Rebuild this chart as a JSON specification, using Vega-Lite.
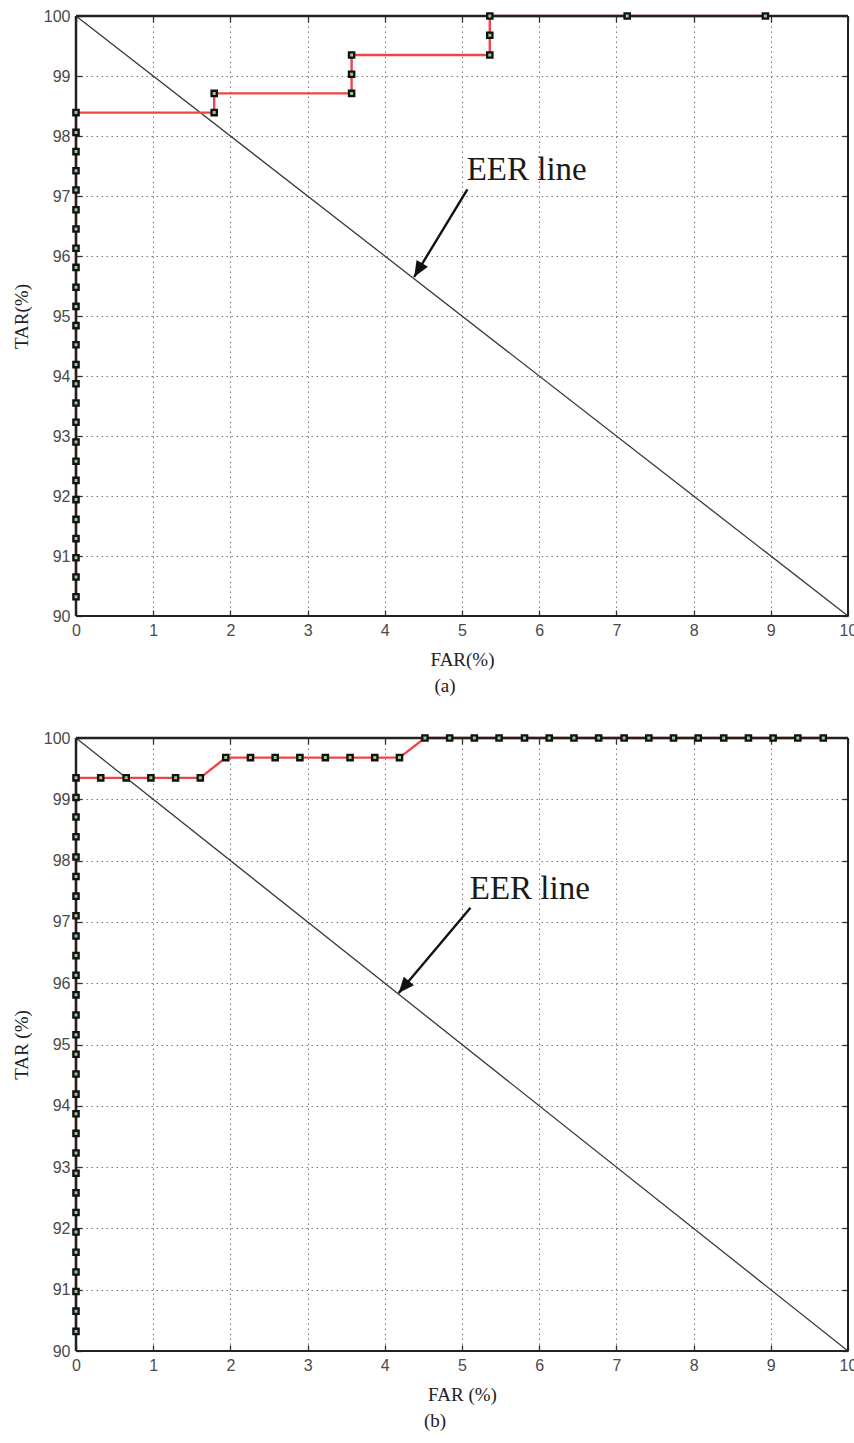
{
  "$schema": "https://vega.github.io/schema/vega-lite/v6.json",
  "background": "white",
  "padding": {"left": 12, "top": 8, "right": 0, "bottom": 0},
  "bounds": "flush",
  "spacing": 122,
  "datasets": {
    "eer": [{"far": 0, "tar": 100}, {"far": 10, "tar": 90}],
    "rocA": [
      {"n": 1, "far": 0, "tar": 90.32}, {"n": 2, "far": 0, "tar": 90.65}, {"n": 3, "far": 0, "tar": 90.97},
      {"n": 4, "far": 0, "tar": 91.29}, {"n": 5, "far": 0, "tar": 91.61}, {"n": 6, "far": 0, "tar": 91.94},
      {"n": 7, "far": 0, "tar": 92.26}, {"n": 8, "far": 0, "tar": 92.58}, {"n": 9, "far": 0, "tar": 92.9},
      {"n": 10, "far": 0, "tar": 93.23}, {"n": 11, "far": 0, "tar": 93.55}, {"n": 12, "far": 0, "tar": 93.87},
      {"n": 13, "far": 0, "tar": 94.19}, {"n": 14, "far": 0, "tar": 94.52}, {"n": 15, "far": 0, "tar": 94.84},
      {"n": 16, "far": 0, "tar": 95.16}, {"n": 17, "far": 0, "tar": 95.48}, {"n": 18, "far": 0, "tar": 95.81},
      {"n": 19, "far": 0, "tar": 96.13}, {"n": 20, "far": 0, "tar": 96.45}, {"n": 21, "far": 0, "tar": 96.77},
      {"n": 22, "far": 0, "tar": 97.1}, {"n": 23, "far": 0, "tar": 97.42}, {"n": 24, "far": 0, "tar": 97.74},
      {"n": 25, "far": 0, "tar": 98.06}, {"n": 26, "far": 0, "tar": 98.39},
      {"n": 27, "far": 1.79, "tar": 98.39}, {"n": 28, "far": 1.79, "tar": 98.71},
      {"n": 29, "far": 3.57, "tar": 98.71}, {"n": 30, "far": 3.57, "tar": 99.03}, {"n": 31, "far": 3.57, "tar": 99.35},
      {"n": 32, "far": 5.36, "tar": 99.35}, {"n": 33, "far": 5.36, "tar": 99.68}, {"n": 34, "far": 5.36, "tar": 100},
      {"n": 35, "far": 7.14, "tar": 100}, {"n": 36, "far": 8.93, "tar": 100}
    ],
    "rocB": [
      {"n": 1, "far": 0, "tar": 90.32}, {"n": 2, "far": 0, "tar": 90.65}, {"n": 3, "far": 0, "tar": 90.97},
      {"n": 4, "far": 0, "tar": 91.29}, {"n": 5, "far": 0, "tar": 91.61}, {"n": 6, "far": 0, "tar": 91.94},
      {"n": 7, "far": 0, "tar": 92.26}, {"n": 8, "far": 0, "tar": 92.58}, {"n": 9, "far": 0, "tar": 92.9},
      {"n": 10, "far": 0, "tar": 93.23}, {"n": 11, "far": 0, "tar": 93.55}, {"n": 12, "far": 0, "tar": 93.87},
      {"n": 13, "far": 0, "tar": 94.19}, {"n": 14, "far": 0, "tar": 94.52}, {"n": 15, "far": 0, "tar": 94.84},
      {"n": 16, "far": 0, "tar": 95.16}, {"n": 17, "far": 0, "tar": 95.48}, {"n": 18, "far": 0, "tar": 95.81},
      {"n": 19, "far": 0, "tar": 96.13}, {"n": 20, "far": 0, "tar": 96.45}, {"n": 21, "far": 0, "tar": 96.77},
      {"n": 22, "far": 0, "tar": 97.1}, {"n": 23, "far": 0, "tar": 97.42}, {"n": 24, "far": 0, "tar": 97.74},
      {"n": 25, "far": 0, "tar": 98.06}, {"n": 26, "far": 0, "tar": 98.39}, {"n": 27, "far": 0, "tar": 98.71},
      {"n": 28, "far": 0, "tar": 99.03}, {"n": 29, "far": 0, "tar": 99.35},
      {"n": 30, "far": 0.32, "tar": 99.35}, {"n": 31, "far": 0.65, "tar": 99.35}, {"n": 32, "far": 0.97, "tar": 99.35},
      {"n": 33, "far": 1.29, "tar": 99.35}, {"n": 34, "far": 1.61, "tar": 99.35},
      {"n": 35, "far": 1.94, "tar": 99.68}, {"n": 36, "far": 2.26, "tar": 99.68}, {"n": 37, "far": 2.58, "tar": 99.68},
      {"n": 38, "far": 2.9, "tar": 99.68}, {"n": 39, "far": 3.23, "tar": 99.68}, {"n": 40, "far": 3.55, "tar": 99.68},
      {"n": 41, "far": 3.87, "tar": 99.68}, {"n": 42, "far": 4.19, "tar": 99.68},
      {"n": 43, "far": 4.52, "tar": 100}, {"n": 44, "far": 4.84, "tar": 100}, {"n": 45, "far": 5.16, "tar": 100},
      {"n": 46, "far": 5.48, "tar": 100}, {"n": 47, "far": 5.81, "tar": 100}, {"n": 48, "far": 6.13, "tar": 100},
      {"n": 49, "far": 6.45, "tar": 100}, {"n": 50, "far": 6.77, "tar": 100}, {"n": 51, "far": 7.1, "tar": 100},
      {"n": 52, "far": 7.42, "tar": 100}, {"n": 53, "far": 7.74, "tar": 100}, {"n": 54, "far": 8.06, "tar": 100},
      {"n": 55, "far": 8.39, "tar": 100}, {"n": 56, "far": 8.71, "tar": 100}, {"n": 57, "far": 9.03, "tar": 100},
      {"n": 58, "far": 9.35, "tar": 100}, {"n": 59, "far": 9.68, "tar": 100}
    ],
    "arrowA": [{"far": 5.07, "tar": 97.11, "far2": 4.38, "tar2": 95.65}],
    "arrowB": [{"far": 5.11, "tar": 97.23, "far2": 4.18, "tar2": 95.84}],
    "labelA": [{"far": 5.06, "tar": 97.27, "label": "EER line"}],
    "labelB": [{"far": 5.1, "tar": 97.38, "label": "EER line"}]
  },
  "vconcat": [
    {
      "width": 772,
      "height": 600,
      "title": {"text": "(a)", "orient": "bottom", "anchor": "middle", "dx": -17, "offset": 8},
      "resolve": {"axis": {"x": "independent", "y": "independent"}},
      "layer": [
        {
          "data": {"name": "eer"},
          "mark": {"type": "line", "color": "#3a3a3a", "strokeWidth": 1.3},
          "encoding": {
            "x": {"field": "far", "type": "quantitative", "scale": {"domain": [0, 10], "nice": false, "zero": false},
                  "axis": {"orient": "bottom", "values": [0, 1, 2, 3, 4, 5, 6, 7, 8, 9, 10], "grid": true, "title": "FAR(%)"}},
            "y": {"field": "tar", "type": "quantitative", "scale": {"domain": [90, 100], "nice": false, "zero": false},
                  "axis": {"orient": "left", "values": [90, 91, 92, 93, 94, 95, 96, 97, 98, 99, 100], "grid": true, "title": "TAR(%)"}}
          }
        },
        {
          "data": {"name": "rocA"},
          "mark": {"type": "line", "color": "#f04545", "strokeWidth": 2.4},
          "encoding": {
            "x": {"field": "far", "type": "quantitative", "scale": {"domain": [0, 10], "nice": false, "zero": false}, "axis": null},
            "y": {"field": "tar", "type": "quantitative", "scale": {"domain": [90, 100], "nice": false, "zero": false}, "axis": null},
            "order": {"field": "n", "type": "quantitative"}
          }
        },
        {"data": {"values": [{}]}, "mark": {"type": "rule", "color": "#222", "strokeWidth": 2.5}, "encoding": {"y": {"datum": 100, "axis": null}}},
        {"data": {"values": [{}]}, "mark": {"type": "rule", "color": "#222", "strokeWidth": 2}, "encoding": {"y": {"datum": 90, "axis": null}}},
        {"data": {"values": [{}]}, "mark": {"type": "rule", "color": "#222", "strokeWidth": 2.5}, "encoding": {"x": {"datum": 0, "axis": null}}},
        {"data": {"values": [{}]}, "mark": {"type": "rule", "color": "#222", "strokeWidth": 2}, "encoding": {"x": {"datum": 10, "axis": null}}},
        {
          "data": {"name": "rocA"},
          "mark": {"type": "point", "shape": "square", "size": 28, "filled": true, "fill": "#98c898", "stroke": "#111", "strokeWidth": 2.3, "opacity": 1},
          "encoding": {
            "x": {"field": "far", "type": "quantitative", "scale": {"domain": [0, 10], "nice": false, "zero": false},
                  "axis": {"orient": "top", "values": [0, 1, 2, 3, 4, 5, 6, 7, 8, 9, 10], "labels": false, "grid": false, "title": null}},
            "y": {"field": "tar", "type": "quantitative", "scale": {"domain": [90, 100], "nice": false, "zero": false},
                  "axis": {"orient": "right", "values": [90, 91, 92, 93, 94, 95, 96, 97, 98, 99, 100], "labels": false, "grid": false, "title": null}}
          }
        },
        {
          "data": {"name": "arrowA"},
          "mark": {"type": "rule", "color": "#111", "strokeWidth": 2.4},
          "encoding": {
            "x": {"field": "far", "type": "quantitative", "axis": null}, "y": {"field": "tar", "type": "quantitative", "axis": null},
            "x2": {"field": "far2"}, "y2": {"field": "tar2"}
          }
        },
        {
          "data": {"name": "arrowA"},
          "mark": {"type": "point", "shape": "M0,0L0.42,1L-0.42,1Z", "size": 1000, "angle": 211, "filled": true, "color": "#111", "opacity": 1},
          "encoding": {"x": {"field": "far2", "type": "quantitative", "axis": null}, "y": {"field": "tar2", "type": "quantitative", "axis": null}}
        },
        {
          "data": {"name": "labelA"},
          "mark": {"type": "text", "font": "Liberation Serif", "fontSize": 33, "align": "left", "baseline": "alphabetic", "color": "#1a1a1a"},
          "encoding": {"x": {"field": "far", "type": "quantitative", "axis": null}, "y": {"field": "tar", "type": "quantitative", "axis": null}, "text": {"field": "label"}}
        }
      ]
    },
    {
      "width": 772,
      "height": 613,
      "title": {"text": "(b)", "orient": "bottom", "anchor": "middle", "dx": -27, "offset": 8},
      "resolve": {"axis": {"x": "independent", "y": "independent"}},
      "layer": [
        {
          "data": {"name": "eer"},
          "mark": {"type": "line", "color": "#3a3a3a", "strokeWidth": 1.3},
          "encoding": {
            "x": {"field": "far", "type": "quantitative", "scale": {"domain": [0, 10], "nice": false, "zero": false},
                  "axis": {"orient": "bottom", "values": [0, 1, 2, 3, 4, 5, 6, 7, 8, 9, 10], "grid": true, "title": "FAR (%)"}},
            "y": {"field": "tar", "type": "quantitative", "scale": {"domain": [90, 100], "nice": false, "zero": false},
                  "axis": {"orient": "left", "values": [90, 91, 92, 93, 94, 95, 96, 97, 98, 99, 100], "grid": true, "title": "TAR (%)"}}
          }
        },
        {
          "data": {"name": "rocB"},
          "mark": {"type": "line", "color": "#f04545", "strokeWidth": 2.4},
          "encoding": {
            "x": {"field": "far", "type": "quantitative", "scale": {"domain": [0, 10], "nice": false, "zero": false}, "axis": null},
            "y": {"field": "tar", "type": "quantitative", "scale": {"domain": [90, 100], "nice": false, "zero": false}, "axis": null},
            "order": {"field": "n", "type": "quantitative"}
          }
        },
        {"data": {"values": [{}]}, "mark": {"type": "rule", "color": "#222", "strokeWidth": 2.5}, "encoding": {"y": {"datum": 100, "axis": null}}},
        {"data": {"values": [{}]}, "mark": {"type": "rule", "color": "#222", "strokeWidth": 2}, "encoding": {"y": {"datum": 90, "axis": null}}},
        {"data": {"values": [{}]}, "mark": {"type": "rule", "color": "#222", "strokeWidth": 2.5}, "encoding": {"x": {"datum": 0, "axis": null}}},
        {"data": {"values": [{}]}, "mark": {"type": "rule", "color": "#222", "strokeWidth": 2}, "encoding": {"x": {"datum": 10, "axis": null}}},
        {
          "data": {"name": "rocB"},
          "mark": {"type": "point", "shape": "square", "size": 28, "filled": true, "fill": "#98c898", "stroke": "#111", "strokeWidth": 2.3, "opacity": 1},
          "encoding": {
            "x": {"field": "far", "type": "quantitative", "scale": {"domain": [0, 10], "nice": false, "zero": false},
                  "axis": {"orient": "top", "values": [0, 1, 2, 3, 4, 5, 6, 7, 8, 9, 10], "labels": false, "grid": false, "title": null}},
            "y": {"field": "tar", "type": "quantitative", "scale": {"domain": [90, 100], "nice": false, "zero": false},
                  "axis": {"orient": "right", "values": [90, 91, 92, 93, 94, 95, 96, 97, 98, 99, 100], "labels": false, "grid": false, "title": null}}
          }
        },
        {
          "data": {"name": "arrowB"},
          "mark": {"type": "rule", "color": "#111", "strokeWidth": 2.4},
          "encoding": {
            "x": {"field": "far", "type": "quantitative", "axis": null}, "y": {"field": "tar", "type": "quantitative", "axis": null},
            "x2": {"field": "far2"}, "y2": {"field": "tar2"}
          }
        },
        {
          "data": {"name": "arrowB"},
          "mark": {"type": "point", "shape": "M0,0L0.42,1L-0.42,1Z", "size": 1000, "angle": 220, "filled": true, "color": "#111", "opacity": 1},
          "encoding": {"x": {"field": "far2", "type": "quantitative", "axis": null}, "y": {"field": "tar2", "type": "quantitative", "axis": null}}
        },
        {
          "data": {"name": "labelB"},
          "mark": {"type": "text", "font": "Liberation Serif", "fontSize": 33, "align": "left", "baseline": "alphabetic", "color": "#1a1a1a"},
          "encoding": {"x": {"field": "far", "type": "quantitative", "axis": null}, "y": {"field": "tar", "type": "quantitative", "axis": null}, "text": {"field": "label"}}
        }
      ]
    }
  ],
  "config": {
    "view": {"stroke": null},
    "axis": {
      "domain": false,
      "ticks": true,
      "tickSize": -6,
      "tickColor": "#333",
      "tickWidth": 1.3,
      "gridColor": "#7a7a7a",
      "gridDash": [1.5, 3.5],
      "gridWidth": 1,
      "gridOpacity": 1,
      "labelFont": "Liberation Sans",
      "labelFontSize": 16,
      "labelColor": "#4a4a4a",
      "labelPadding": 12,
      "labelFlush": false,
      "labelOverlap": false,
      "labelBound": false,
      "titleFont": "Liberation Serif",
      "titleFontSize": 19,
      "titleFontWeight": "normal",
      "titleColor": "#222",
      "titlePadding": 12
    },
    "title": {"font": "Liberation Serif", "fontSize": 19, "fontWeight": "normal", "color": "#222"}
  }
}
